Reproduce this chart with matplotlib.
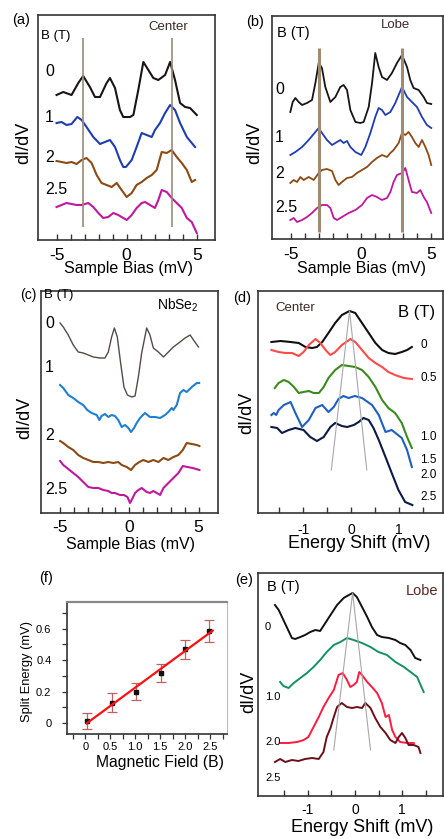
import matplotlib.pyplot as plt
import numpy as np
from matplotlib.ticker import MultipleLocator, FixedLocator

plt.rcParams['font.family'] = ['Liberation Sans', 'DejaVu Sans']
plt.rcParams['mathtext.fontset'] = 'custom'
plt.rcParams['mathtext.rm'] = 'Liberation Sans'
plt.rcParams['axes.unicode_minus'] = False

# ---- (a) Center, sample bias (mV) / dI/dV (a.u., offset) ----
a_bias_0 = [-5.0, -4.52, -3.93, -3.45, -3.10, -2.62, -2.26, -1.90, -1.43, -1.19, -0.83, -0.48, -0.24, 0.24,
            0.48, 0.83, 1.19, 1.55, 1.90, 2.26, 2.74, 3.10, 3.45, 3.81, 4.17, 4.52, 5.0]
a_didv_0 = [145, 148, 145, 157, 164, 153, 143, 143, 157, 162, 152, 130, 123, 123, 125, 150, 178, 170, 162, 160,
            165, 178, 160, 137, 133, 132, 125]
a_bias_1 = [-5.0, -4.64, -4.29, -3.93, -3.52, -3.21, -2.86, -2.38, -1.90, -1.55, -1.19, -0.83, -0.48, -0.24, -0.05,
            0.36, 0.71, 1.07, 1.43, 1.79, 2.02, 2.38, 2.74, 3.10, 3.45, 3.81, 4.29, 4.88]
a_didv_1 = [117, 118, 115, 116, 123, 120, 113, 103, 96, 98, 100, 93, 80, 73, 73, 80, 93, 107, 105, 103, 110, 117,
            127, 135, 130, 117, 103, 93]
a_bias_2 = [-5.0, -4.64, -4.29, -3.93, -3.57, -3.21, -2.86, -2.5, -2.14, -1.79, -1.43, -1.07, -0.71, -0.36, 0.0,
            0.36, 0.71, 1.07, 1.43, 1.79, 2.14, 2.5, 2.86, 3.21, 3.57, 3.93, 4.29, 4.64, 4.88]
a_didv_2 = [79, 78, 77, 78, 76, 80, 82, 77, 65, 57, 55, 53, 57, 50, 43, 47, 55, 58, 62, 65, 70, 88, 87, 90, 83,
            77, 70, 58, 60]
a_bias_3 = [-5.0, -4.64, -4.29, -3.93, -3.57, -3.21, -2.74, -2.38, -2.02, -1.67, -1.31, -0.95, -0.6, -0.24, 0.0,
            0.36, 0.71, 1.07, 1.31, 1.67, 2.02, 2.26, 2.5, 2.86, 3.21, 3.57, 3.93, 4.29, 4.64, 5.0]
a_didv_3 = [33, 35, 37, 36, 35, 35, 37, 33, 27, 22, 23, 27, 25, 22, 20, 25, 32, 37, 38, 35, 32, 40, 50, 48, 42,
            37, 32, 22, 18, 7]
a_marks = [-3.14, 3.21]

# ---- (b) Lobe ----
b_bias_0 = [-5.05, -4.88, -4.69, -4.45, -4.21, -3.86, -3.5, -3.26, -3.02, -2.79, -2.55, -2.19, -1.83, -1.48,
            -1.24, -1.0, -0.76, -0.4, -0.05, 0.19, 0.55, 0.79, 1.02, 1.26, 1.5, 1.86, 2.21, 2.57, 2.93, 3.29,
            3.52, 3.76, 4.12, 4.48, 4.71, 5.02]
b_didv_0 = [127, 137, 141, 137, 134, 136, 139, 156, 176, 171, 152, 137, 142, 152, 154, 149, 129, 117, 116, 117,
            132, 156, 186, 172, 162, 159, 166, 176, 184, 172, 159, 151, 149, 142, 136, 135]
b_bias_1 = [-5.05, -4.69, -4.21, -3.74, -3.26, -3.02, -2.79, -2.43, -2.07, -1.71, -1.48, -1.24, -1.0, -0.76,
            -0.4, 0.02, 0.31, 0.67, 1.02, 1.26, 1.5, 1.74, 2.1, 2.45, 2.93, 3.29, 3.64, 4.0, 4.36, 4.71, 5.02]
b_didv_1 = [84, 87, 92, 99, 107, 111, 106, 99, 94, 97, 99, 96, 98, 92, 87, 84, 92, 106, 122, 131, 129, 124, 127,
            136, 152, 142, 137, 132, 122, 114, 111]
b_bias_2 = [-5.05, -4.81, -4.57, -4.33, -4.1, -3.74, -3.38, -3.02, -2.79, -2.43, -2.07, -1.83, -1.6, -1.36, -1.0,
            -0.64, -0.29, 0.07, 0.43, 0.79, 1.14, 1.5, 1.86, 2.1, 2.33, 2.69, 2.93, 3.17, 3.4, 3.64, 3.88, 4.12,
            4.36, 4.6, 4.83, 5.02]
b_didv_2 = [56, 59, 57, 62, 59, 62, 59, 66, 69, 70, 68, 59, 54, 57, 61, 62, 66, 69, 72, 77, 81, 84, 82, 86, 89,
            96, 106, 104, 107, 102, 96, 92, 99, 92, 84, 74]
b_bias_3 = [-5.05, -4.81, -4.57, -4.21, -3.86, -3.5, -3.14, -2.79, -2.43, -2.19, -1.95, -1.71, -1.36, -0.88,
            -0.4, 0.07, 0.43, 0.79, 1.14, 1.5, 1.86, 2.1, 2.33, 2.57, 2.93, 3.17, 3.4, 3.64, 4.0, 4.24, 4.48,
            4.71, 5.02]
b_didv_3 = [19, 21, 17, 19, 22, 26, 31, 34, 34, 31, 21, 19, 22, 26, 29, 34, 41, 44, 42, 39, 41, 47, 57, 64, 66,
            71, 59, 47, 46, 49, 42, 37, 26]
b_marks = [-3.02, 2.93]

# ---- (c) NbSe2 ----
c_bias_0 = [-5.0, -4.77, -4.41, -4.05, -3.69, -3.33, -2.96, -2.6, -2.12, -1.76, -1.52, -1.28, -1.08, -0.87,
            -0.63, -0.39, -0.14, 0.17, 0.41, 0.65, 0.89, 1.25, 1.49, 1.73, 2.1, 2.46, 2.82, 3.18, 3.66, 4.02,
            4.39, 4.63, 4.99]
c_didv_0 = [190, 186, 178, 168, 161, 160, 158, 156, 155, 155, 161, 176, 185, 176, 150, 126, 118, 116, 117, 136,
            160, 185, 178, 165, 161, 156, 161, 166, 171, 175, 178, 173, 166]
c_bias_1 = [-5.0, -4.77, -4.41, -4.05, -3.69, -3.33, -3.04, -2.72, -2.36, -2.17, -2.0, -1.76, -1.52, -1.28,
            -1.04, -0.8, -0.55, -0.31, -0.07, 0.12, 0.34, 0.53, 0.77, 1.13, 1.49, 1.86, 2.22, 2.58, 2.82, 3.06,
            3.18, 3.42, 3.66, 3.9, 4.14, 4.51, 4.87, 5.04]
c_didv_1 = [128, 125, 118, 115, 111, 108, 103, 100, 98, 93, 97, 99, 96, 98, 97, 93, 86, 88, 85, 81, 85, 90, 95,
            100, 96, 96, 95, 98, 101, 105, 103, 108, 120, 123, 121, 126, 130, 130]
c_bias_2 = [-5.0, -4.77, -4.41, -4.05, -3.69, -3.33, -2.96, -2.6, -2.24, -1.88, -1.52, -1.16, -0.8, -0.55, -0.19,
            0.12, 0.41, 0.72, 1.01, 1.37, 1.73, 2.1, 2.46, 2.82, 3.18, 3.54, 3.86, 4.14, 4.51, 4.87, 5.06]
c_didv_2 = [72, 70, 66, 63, 58, 55, 53, 51, 51, 50, 51, 50, 51, 48, 46, 43, 48, 51, 53, 51, 53, 51, 55, 53, 56,
            58, 63, 70, 69, 68, 67]
c_bias_3 = [-5.0, -4.77, -4.41, -4.05, -3.69, -3.33, -2.96, -2.6, -2.24, -1.88, -1.52, -1.28, -1.04, -0.67,
            -0.39, -0.14, 0.05, 0.24, 0.41, 0.65, 0.89, 1.25, 1.49, 1.73, 1.98, 2.22, 2.46, 2.82, 3.18, 3.54,
            3.86, 4.19, 4.58, 5.06]
c_didv_3 = [52, 48, 44, 40, 36, 31, 26, 25, 25, 23, 22, 20, 20, 18, 18, 16, 10, 15, 20, 23, 25, 21, 20, 22, 20,
            18, 25, 30, 35, 40, 47, 46, 45, 43]

# ---- (d) Center, energy shift (mV) ----
d_shift_0 = [-1.66, -1.47, -1.26, -1.09, -0.95, -0.81, -0.71, -0.6, -0.47, -0.33, -0.19, -0.03, 0.09, 0.23,
             0.37, 0.51, 0.65, 0.78, 0.92, 1.06, 1.17, 1.27]
d_didv_0 = [171, 172, 171, 170, 166, 165, 166, 171, 180, 190, 198, 202, 200, 190, 180, 170, 163, 160, 159, 161,
            163, 166]
d_shift_1 = [-1.66, -1.51, -1.37, -1.23, -1.09, -0.99, -0.88, -0.74, -0.64, -0.53, -0.43, -0.33, -0.19, -0.01,
             0.09, 0.23, 0.37, 0.51, 0.65, 0.78, 0.92, 1.1, 1.27]
d_didv_1 = [163, 161, 160, 160, 157, 161, 168, 174, 170, 163, 158, 161, 168, 174, 171, 163, 155, 150, 146, 141,
            138, 135, 134]
d_shift_2 = [-1.59, -1.51, -1.4, -1.3, -1.19, -1.09, -0.99, -0.88, -0.78, -0.67, -0.57, -0.47, -0.33, -0.19,
             -0.05, 0.09, 0.23, 0.37, 0.51, 0.65, 0.78, 0.92, 1.06, 1.17, 1.27]
d_didv_2 = [125, 130, 133, 131, 126, 120, 121, 122, 120, 120, 126, 135, 143, 148, 147, 146, 143, 136, 126, 113,
            105, 100, 90, 76, 65]
d_shift_3 = [-1.66, -1.61, -1.56, -1.51, -1.4, -1.26, -1.16, -1.02, -0.88, -0.74, -0.6, -0.47, -0.36, -0.26,
             -0.16, -0.05, 0.08, 0.23, 0.44, 0.58, 0.72, 0.85, 1.06, 1.17, 1.27]
d_didv_3 = [98, 100, 98, 103, 108, 111, 100, 86, 93, 105, 108, 101, 106, 114, 117, 115, 117, 115, 108, 98, 81,
            83, 75, 63, 46]
d_shift_4 = [-1.66, -1.54, -1.44, -1.3, -1.16, -0.99, -0.85, -0.71, -0.57, -0.43, -0.33, -0.19, -0.08, 0.06,
             0.16, 0.26, 0.37, 0.47, 0.58, 0.72, 0.85, 0.99, 1.13, 1.28]
d_didv_4 = [86, 85, 80, 83, 85, 83, 76, 72, 76, 86, 90, 87, 86, 88, 91, 95, 93, 85, 73, 56, 40, 23, 11, 8]
d_guide_x = [-0.41, -0.03, 0.33]
d_guide_y = [43, 202, 43]
d_fields = ['0', '0.5', '1.0', '1.5', '2.0', '2.5']

# ---- (e) Lobe, energy shift (mV) ----
e_shift_0 = [-1.7, -1.62, -1.55, -1.45, -1.34, -1.27, -1.16, -1.06, -0.95, -0.84, -0.74, -0.63, -0.52, -0.38,
             -0.24, -0.13, -0.05, 0.04, 0.15, 0.26, 0.36, 0.47, 0.57, 0.72, 0.86, 0.96, 1.07, 1.18, 1.28, 1.39]
e_didv_0 = [191, 186, 179, 169, 158, 157, 159, 161, 164, 166, 165, 173, 181, 191, 198, 201, 203, 199, 189, 179,
            169, 161, 159, 158, 156, 153, 151, 146, 138, 136]
e_shift_1 = [-1.59, -1.52, -1.41, -1.3, -1.16, -1.02, -0.88, -0.74, -0.6, -0.45, -0.31, -0.17, -0.03, 0.15,
             0.33, 0.5, 0.68, 0.86, 1.04, 1.18, 1.32, 1.46]
e_didv_1 = [114, 110, 108, 113, 118, 123, 129, 136, 144, 151, 154, 158, 156, 153, 149, 144, 141, 134, 129, 124,
            119, 104]
e_shift_2 = [-1.59, -1.41, -1.23, -1.09, -0.99, -0.88, -0.77, -0.67, -0.56, -0.45, -0.35, -0.26, -0.17, -0.1,
             -0.03, 0.04, 0.09, 0.15, 0.26, 0.36, 0.47, 0.57, 0.65, 0.72, 0.79, 0.86, 0.96, 1.11, 1.25]
e_didv_2 = [53, 53, 54, 56, 59, 69, 79, 89, 98, 106, 121, 123, 116, 109, 111, 114, 124, 121, 114, 109, 103, 93,
            79, 81, 66, 59, 54, 53, 53]
e_shift_3 = [-1.7, -1.59, -1.48, -1.34, -1.2, -1.06, -0.91, -0.77, -0.67, -0.6, -0.52, -0.45, -0.38, -0.28,
             -0.17, -0.06, 0.04, 0.15, 0.22, 0.33, 0.43, 0.54, 0.65, 0.75, 0.86, 0.93, 1.0, 1.07, 1.14, 1.25,
             1.35, 1.39]
e_didv_3 = [34, 37, 34, 36, 35, 37, 38, 37, 44, 59, 68, 79, 89, 93, 89, 88, 89, 88, 93, 88, 78, 69, 63, 56, 53,
            59, 63, 58, 51, 51, 49, 43]
e_guide_x = [-0.45, -0.05, 0.33]
e_guide_y = [46, 203, 46]
e_fields = ['0', '1.0', '2.0', '2.5']

# ---- (f) split energy vs field ----
f_field = [0.03, 0.53, 1.02, 1.52, 2.0, 2.48]
f_split = [0.015, 0.13, 0.20, 0.32, 0.47, 0.587]
f_err = [0.05, 0.06, 0.055, 0.058, 0.06, 0.07]

W, H = 444, 839
fig = plt.figure(figsize=(W / 100, H / 100), dpi=100)


def box(l, t, r, b):
    return fig.add_axes([l / W, 1 - b / H, (r - l) / W, (b - t) / H])


def txt(x, y, s, **kw):
    kw.setdefault('ha', 'center')
    kw.setdefault('va', 'center')
    fig.text(x / W, 1 - y / H, s, **kw)


def spec_axes(ax, xlim, ylim, major, minor, fs, pad):
    ax.set_xlim(*xlim)
    ax.set_ylim(*ylim)
    ax.set_yticks([])
    ax.xaxis.set_major_locator(FixedLocator(major))
    ax.xaxis.set_minor_locator(FixedLocator(minor))
    ax.tick_params(axis='x', which='both', direction='in', length=4.5, width=1, color='#333',
                   labelsize=fs, pad=pad)
    for s in ax.spines.values():
        s.set_color('#333')
        s.set_linewidth(1.2)


bias_major = [-5, 0, 5]
bias_minor = [-4, -3, -2, -1, 1, 2, 3, 4]
shift_major = [-1, 0, 1]
shift_minor = [-1.5, -0.5, 0.5, 1.5]

# (a)
ax = box(38.3, 15.3, 215, 240)
spec_axes(ax, (-6.3, 6.3), (0, 224.7), bias_major, bias_minor, 12.5, 5.5)
for x, y, c in [(a_bias_0, a_didv_0, '#1a1414'), (a_bias_1, a_didv_1, '#1f3cb0'),
                (a_bias_2, a_didv_2, '#8b4a14'), (a_bias_3, a_didv_3, '#c0189a')]:
    ax.plot(x, y, color=c, lw=1.5, solid_joinstyle='round')
ax.vlines(a_marks, 13, 202, color='#9b8a7a', lw=1.2)
txt(21, 20, '(a)', fontsize=10.5)
txt(41, 36, 'B (T)', ha='left', fontsize=9.5)
txt(168, 27, 'Center', fontsize=9.5, color='#3a2a2a')
for y, s in zip([72, 117, 157, 190], ['0', '1', '2', '2.5']):
    txt(45, y, s, ha='left', fontsize=11.5)
txt(24, 143, 'dI/dV', rotation=90, fontsize=13)
txt(129, 269, 'Sample Bias (mV)', fontsize=11.5)

# (b)
ax = box(272, 15.7, 443, 239)
spec_axes(ax, (-6.36, 5.86), (0, 223.3), bias_major, bias_minor, 12.5, 5.5)
for x, y, c in [(b_bias_0, b_didv_0, '#1a1414'), (b_bias_1, b_didv_1, '#1f3cb0'),
                (b_bias_2, b_didv_2, '#8b4a14'), (b_bias_3, b_didv_3, '#c0189a')]:
    ax.plot(x, y, color=c, lw=1.3, solid_joinstyle='round')
ax.vlines(b_marks, 7, 191, color='#a08a70', lw=2.2)
txt(255, 22, '(b)', fontsize=10.5)
txt(277, 33, 'B (T)', ha='left', fontsize=10.5)
txt(395, 25, 'Lobe', fontsize=9.5, color='#3a2a2a')
for y, s in zip([90, 137, 173, 208], ['0', '1', '2', '2.5']):
    txt(275, y, s, ha='left', fontsize=11.5)
txt(255, 143, 'dI/dV', rotation=90, fontsize=13)
txt(361, 269, 'Sample Bias (mV)', fontsize=11.5)

# (c)
ax = box(40.7, 290.7, 218, 513)
spec_axes(ax, (-6.4, 6.4), (0, 222.3), bias_major, bias_minor, 12.5, 5)
ax.plot(c_bias_0, c_didv_0, color='#554a4a', lw=1.0)
for x, y, c in [(c_bias_1, c_didv_1, '#1f7fd0'), (c_bias_2, c_didv_2, '#8b4a14'),
                (c_bias_3, c_didv_3, '#c0189a')]:
    ax.plot(x, y, color=c, lw=1.5, solid_joinstyle='round')
txt(28, 295, '(c)', fontsize=10)
txt(43.5, 295, 'B (T)', ha='left', fontsize=9.5)
txt(178, 305, 'NbSe$_2$', fontsize=10)
for y, s in zip([323, 367, 435, 490], ['0', '1', '2', '2.5']):
    txt(45, y, s, ha='left', fontsize=11.5)
txt(25, 418, 'dI/dV', rotation=90, fontsize=13)
txt(130, 544, 'Sample Bias (mV)', fontsize=11.5)

# (d)
ax = box(258, 290.7, 443, 513)
spec_axes(ax, (-1.94, 1.92), (0, 222.3), shift_major, shift_minor, 10, 7)
for x, y, c in [(d_shift_0, d_didv_0, '#111111'), (d_shift_1, d_didv_1, '#ff4a4a'),
                (d_shift_2, d_didv_2, '#3a8a1e'), (d_shift_3, d_didv_3, '#1f5fc0'),
                (d_shift_4, d_didv_4, '#0d1a45')]:
    ax.plot(x, y, color=c, lw=1.5, solid_joinstyle='round')
ax.plot(d_guide_x, d_guide_y, color='#a8a8a8', lw=0.8)
txt(242, 298, '(d)', fontsize=10.5)
txt(295, 308, 'Center', fontsize=9.5, color='#3a2a2a')
txt(417, 313, 'B (T)', fontsize=12)
for y, s in zip([345, 378, 437, 460, 475, 497], d_fields):
    txt(420, y, s, ha='left', fontsize=8.5)
txt(247, 413, 'dI/dV', rotation=90, fontsize=13)
txt(359, 544, 'Energy Shift (mV)', fontsize=13)

# (e)
ax = box(258, 572.7, 443, 796)
spec_axes(ax, (-2.06, 1.87), (0, 223.3), shift_major, shift_minor, 10, 5)
for x, y, c in [(e_shift_0, e_didv_0, '#111111'), (e_shift_1, e_didv_1, '#169060'),
                (e_shift_2, e_didv_2, '#ff1a40'), (e_shift_3, e_didv_3, '#6a1018')]:
    ax.plot(x, y, color=c, lw=1.4, solid_joinstyle='round')
ax.plot(e_guide_x, e_guide_y, color='#a8a8a8', lw=0.8)
txt(244, 580, '(e)', fontsize=10.5)
txt(267, 587, 'B (T)', ha='left', fontsize=10.5)
txt(422, 591, 'Lobe', fontsize=10.5, color='#5a2520')
for y, s in zip([627, 697, 742, 778], e_fields):
    txt(265, y, s, ha='left', fontsize=8)
txt(249, 692, 'dI/dV', rotation=90, fontsize=13)
txt(362, 828, 'Energy Shift (mV)', fontsize=13)

# (f)
ax = box(66.7, 601.7, 226.7, 734)
ax.set_xlim(-0.37, 2.83)
ax.set_ylim(-0.068, 0.77)
ax.errorbar(f_field, f_split, yerr=f_err, fmt='s', ms=3, color='#111111', ecolor='#c06060',
            elinewidth=0.9, capsize=3.5, capthick=0.9, zorder=2)
k, b0 = np.polyfit(f_field, f_split, 1)
fx = np.array([f_field[0], 2.55])
ax.plot(fx, k * fx + b0, color='#ff1010', lw=1.6, zorder=3)
ax.set_xticks([0, 0.5, 1.0, 1.5, 2.0, 2.5])
ax.set_xticklabels(['0', '0.5', '1.0', '1.5', '2.0', '2.5'])
ax.set_yticks([0, 0.2, 0.4, 0.6])
ax.set_yticklabels(['0', '0.2', '0.4', '0.6'])
ax.xaxis.set_minor_locator(MultipleLocator(0.25))
ax.yaxis.set_minor_locator(MultipleLocator(0.1))
ax.tick_params(which='both', direction='out', length=3.5, width=0.9, color='#333', labelsize=8)
ax.tick_params(axis='y', pad=7.5)
ax.tick_params(axis='x', pad=2.5)
for s in ['left', 'bottom']:
    ax.spines[s].set_color('#333')
    ax.spines[s].set_linewidth(1.2)
ax.spines['top'].set_color('#888')
ax.spines['top'].set_linewidth(1.6)
ax.spines['right'].set_color('#bbb')
ax.spines['right'].set_linewidth(0.8)
txt(46, 578, '(f)', fontsize=10.5)
txt(27, 672, 'Split Energy (mV)', rotation=90, fontsize=9.3)
txt(160, 763, 'Magnetic Field (B)', fontsize=11.3)

fig.savefig('out.png', dpi=100)
